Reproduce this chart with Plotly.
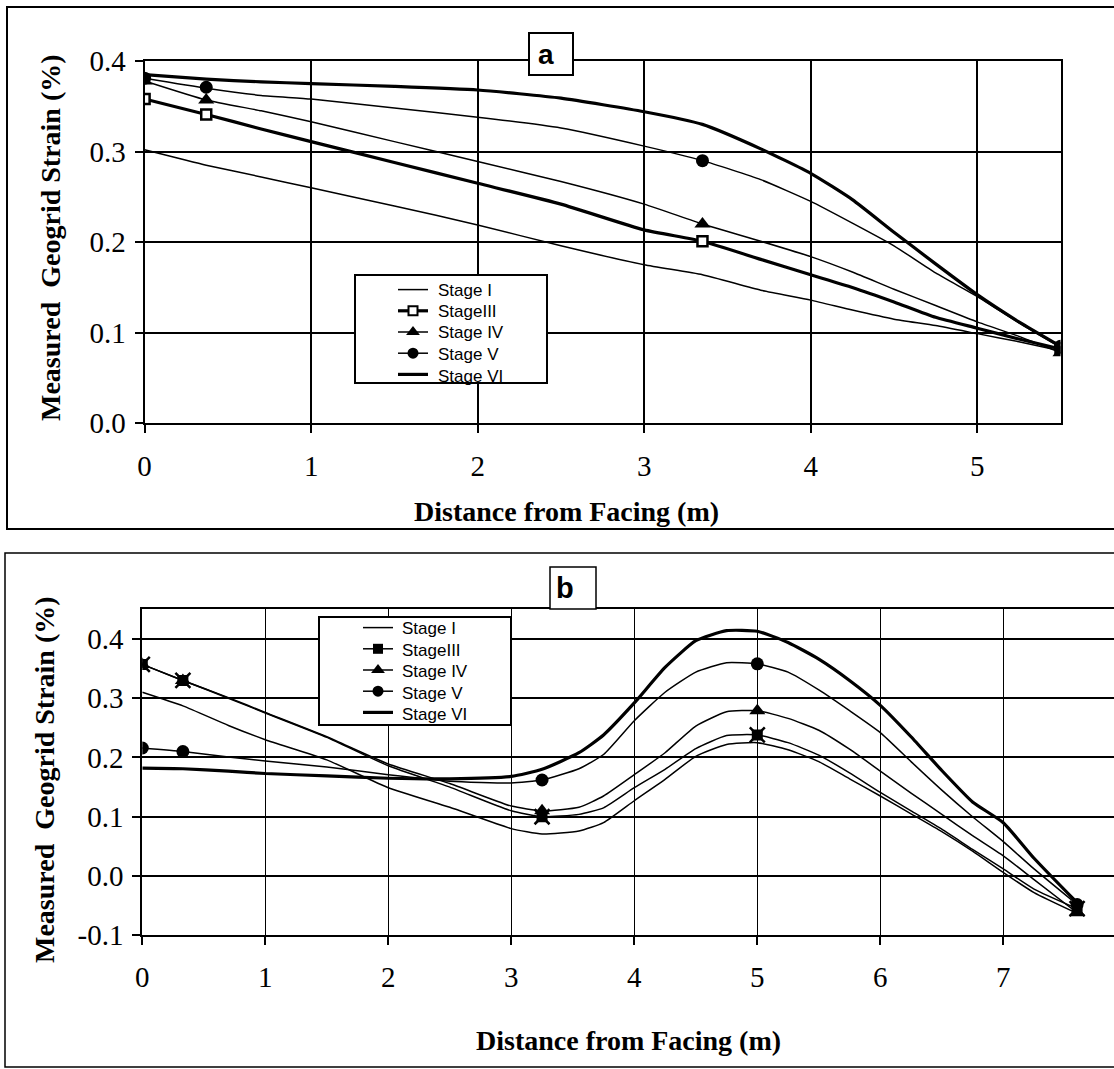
import plotly.graph_objects as go

W, H = 1114, 1069

# ---------------- Panel a data ----------------
a_x = [0, 0.37, 0.7, 1.0, 1.5, 2.0, 2.5, 3.0, 3.35, 3.7, 4.0, 4.25, 4.5, 4.75, 5.0, 5.25, 5.5]
a_stage1 = [0.302, 0.285, 0.272, 0.260, 0.240, 0.219, 0.196, 0.175, 0.164, 0.147, 0.136, 0.125, 0.115, 0.108, 0.099, 0.090, 0.080]
a_stage3 = [0.358, 0.341, 0.325, 0.311, 0.288, 0.265, 0.242, 0.2135, 0.201, 0.181, 0.164, 0.150, 0.134, 0.117, 0.105, 0.093, 0.082]
a_stage4 = [0.378, 0.357, 0.345, 0.333, 0.311, 0.289, 0.267, 0.242, 0.220, 0.201, 0.184, 0.167, 0.148, 0.130, 0.112, 0.096, 0.078]
a_stage5 = [0.381, 0.370, 0.362, 0.358, 0.348, 0.338, 0.326, 0.306, 0.290, 0.269, 0.245, 0.221, 0.196, 0.166, 0.140, 0.111, 0.084]
a_stage6 = [0.385, 0.380, 0.377, 0.375, 0.372, 0.368, 0.359, 0.344, 0.330, 0.303, 0.276, 0.247, 0.211, 0.176, 0.142, 0.112, 0.085]

a_gauge_x = [0, 0.37, 3.35, 5.5]
a_stage3_pts = [0.358, 0.341, 0.201, 0.083]
a_stage4_pts = [0.378, 0.357, 0.220, 0.078]
a_stage5_pts = [0.381, 0.371, 0.290, 0.085]

a_xticks = [0, 1, 2, 3, 4, 5]
a_yticks = [0.0, 0.1, 0.2, 0.3, 0.4]
a_yticktext = ["0.0", "0.1", "0.2", "0.3", "0.4"]

# ---------------- Panel b data ----------------
b_x = [0, 0.33, 0.7, 1.0, 1.5, 2.0, 2.5, 3.0, 3.25, 3.55, 3.75, 4.0, 4.25, 4.5, 4.75,
       5.0, 5.25, 5.5, 5.75, 6.0, 6.25, 6.5, 6.75, 7.0, 7.25, 7.6]
b_stage1 = [0.310, 0.287, 0.254, 0.230, 0.196, 0.149, 0.116, 0.080, 0.071, 0.076, 0.090, 0.127, 0.163,
            0.202, 0.222, 0.225, 0.213, 0.193, 0.164, 0.135, 0.105, 0.075, 0.042, 0.006, -0.028, -0.063]
b_stage3 = [0.357, 0.330, 0.300, 0.275, 0.234, 0.186, 0.150, 0.110, 0.100, 0.104, 0.115, 0.149, 0.180,
            0.215, 0.237, 0.238, 0.225, 0.204, 0.174, 0.141, 0.110, 0.079, 0.045, 0.012, -0.022, -0.055]
b_stage4 = [0.357, 0.330, 0.301, 0.276, 0.235, 0.189, 0.156, 0.118, 0.110, 0.116, 0.135, 0.171, 0.208,
            0.253, 0.277, 0.279, 0.266, 0.246, 0.214, 0.177, 0.140, 0.104, 0.068, 0.034, -0.006, -0.062]
b_stage5 = [0.216, 0.210, 0.201, 0.194, 0.184, 0.171, 0.160, 0.157, 0.162, 0.181, 0.205, 0.262, 0.310,
            0.344, 0.360, 0.358, 0.344, 0.314, 0.279, 0.242, 0.193, 0.145, 0.100, 0.058, 0.012, -0.048]
b_stage6 = [0.182, 0.181, 0.177, 0.173, 0.169, 0.165, 0.164, 0.168, 0.180, 0.208, 0.238, 0.292, 0.352,
            0.397, 0.414, 0.413, 0.394, 0.366, 0.330, 0.288, 0.235, 0.178, 0.125, 0.090, 0.030, -0.045]

b_gauge_x = [0, 0.33, 3.25, 5.0, 7.6]
b_stage3_pts = [0.357, 0.330, 0.100, 0.238, -0.055]
b_stage4_pts = [0.357, 0.330, 0.110, 0.279, -0.062]
b_stage5_pts = [0.216, 0.210, 0.162, 0.358, -0.048]

b_xticks = [0, 1, 2, 3, 4, 5, 6, 7]
b_yticks = [-0.1, 0.0, 0.1, 0.2, 0.3, 0.4]
b_yticktext = ["-0.1", "0.0", "0.1", "0.2", "0.3", "0.4"]

stage_names = ["Stage I", "StageIII", "Stage IV", "Stage V", "Stage VI"]
y_title = "Measured  Geogrid Strain (%)"
x_title = "Distance from Facing (m)"

SERIF = "Liberation Serif, Times New Roman, serif"
SANS = "Liberation Sans, Arial, sans-serif"
THIN, THICK = 1.5, 3.2


def PX(px):
    return px / W


def PY(py):
    return 1 - py / H


fig = go.Figure()


def add_line(x, y, width, xa, ya):
    fig.add_trace(go.Scatter(x=x, y=y, mode="lines", xaxis=xa, yaxis=ya,
                             line=dict(color="black", width=width, shape="spline", smoothing=0.5),
                             showlegend=False, hoverinfo="skip"))


def add_markers(x, y, symbol, size, xa, ya, fill="black", lw=0):
    fig.add_trace(go.Scatter(x=x, y=y, mode="markers", xaxis=xa, yaxis=ya,
                             marker=dict(symbol=symbol, size=size, color=fill,
                                         line=dict(color="black", width=lw)),
                             showlegend=False, hoverinfo="skip"))


def add_legend_item(width, symbol, size, legend, fill="black", lw=0):
    # legend key sample only; the entry label is drawn as an annotation
    mode = "lines+markers" if symbol else "lines"
    mk = dict(symbol=symbol, size=size, color=fill, line=dict(color="black", width=lw)) if symbol else None
    fig.add_trace(go.Scatter(x=[None], y=[None], mode=mode, name="", legend=legend,
                             line=dict(color="black", width=width), marker=mk,
                             xaxis="x" if legend == "legend" else "x2",
                             yaxis="y" if legend == "legend" else "y2"))


# ---- Panel a traces ----
add_line(a_x, a_stage1, THIN, "x", "y")
add_line(a_x, a_stage3, THICK, "x", "y")
add_line(a_x, a_stage4, THIN, "x", "y")
add_line(a_x, a_stage5, THIN, "x", "y")
add_line(a_x, a_stage6, THICK, "x", "y")
add_markers(a_gauge_x, a_stage3_pts, "square", 10, "x", "y", fill="white", lw=2.5)
add_markers(a_gauge_x, a_stage4_pts, "triangle-up", 14, "x", "y")
add_markers(a_gauge_x, a_stage5_pts, "circle", 13, "x", "y")

add_legend_item(THIN, None, 0, "legend")
add_legend_item(THICK, "square", 9, "legend", fill="white", lw=2)
add_legend_item(THIN, "triangle-up", 12, "legend")
add_legend_item(THIN, "circle", 11, "legend")
add_legend_item(THICK, None, 0, "legend")

# ---- Panel b traces ----
add_line(b_x, b_stage1, THIN, "x2", "y2")
add_line(b_x, b_stage3, THIN, "x2", "y2")
add_line(b_x, b_stage4, THIN, "x2", "y2")
add_line(b_x, b_stage5, THIN, "x2", "y2")
add_line(b_x, b_stage6, THICK, "x2", "y2")
add_markers(b_gauge_x, b_stage4_pts, "triangle-up", 14, "x2", "y2")
add_markers(b_gauge_x, b_stage3_pts, "square", 11, "x2", "y2")
add_markers(b_gauge_x, b_stage3_pts, "x-thin-open", 15, "x2", "y2", lw=2.5)
add_markers(b_gauge_x, b_stage5_pts, "circle", 13, "x2", "y2")

add_legend_item(THIN, None, 0, "legend2")
add_legend_item(THIN, "square", 10, "legend2")
add_legend_item(THIN, "triangle-up", 12, "legend2")
add_legend_item(THIN, "circle", 11, "legend2")
add_legend_item(THICK, None, 0, "legend2")

tickfont = dict(family=SERIF, size=29, color="black")
common_axis = dict(showline=True, linecolor="black", linewidth=2, ticks="outside",
                   ticklen=8, tickwidth=2, tickcolor="black", tickfont=tickfont,
                   showgrid=True, gridcolor="black", zeroline=False, fixedrange=True,
                   automargin=False)

fig.update_layout(
    template="none",
    width=W, height=H, margin=dict(l=0, r=0, t=0, b=0, pad=0, autoexpand=False),
    paper_bgcolor="white", plot_bgcolor="white",
    xaxis=dict(domain=[PX(144.6), PX(1060.5)], range=[0, 5.5], tickvals=a_xticks,
               gridwidth=1.5, mirror=True, anchor="y", ticklabelstandoff=8, **common_axis),
    yaxis=dict(domain=[PY(423.3), PY(61)], range=[0, 0.4], tickvals=a_yticks, ticktext=a_yticktext,
               gridwidth=1.5, mirror=True, anchor="x", ticklabelstandoff=3, **common_axis),
    xaxis2=dict(domain=[PX(142.3), 1.0], range=[0, 7.9], tickvals=b_xticks,
                gridwidth=1, mirror=True, anchor="y2", ticklabelstandoff=7, **common_axis),
    yaxis2=dict(domain=[PY(935.3), PY(609.3)], range=[-0.1, 0.45], tickvals=b_yticks, ticktext=b_yticktext,
                gridwidth=2, mirror=False, anchor="x2", ticklabelstandoff=3, **common_axis),
    legend=dict(x=PX(393), y=PY(274), xanchor="left", yanchor="top", bgcolor="rgba(0,0,0,0)",
                borderwidth=0, font=dict(family=SANS, size=14, color="black"),
                tracegroupgap=0, itemwidth=30),
    legend2=dict(x=PX(358), y=PY(612), xanchor="left", yanchor="top", bgcolor="rgba(0,0,0,0)",
                 borderwidth=0, font=dict(family=SANS, size=14, color="black"),
                 tracegroupgap=0, itemwidth=30),
    showlegend=True,
)

shapes = []
# outer panel frames
shapes.append(dict(type="rect", xref="paper", yref="paper", x0=PX(7), x1=PX(1130), y0=PY(529), y1=PY(7),
                   line=dict(color="black", width=2), fillcolor="rgba(0,0,0,0)", layer="below"))
shapes.append(dict(type="rect", xref="paper", yref="paper", x0=PX(5), x1=PX(1130), y0=PY(1067), y1=PY(553),
                   line=dict(color="black", width=1.5), fillcolor="rgba(0,0,0,0)", layer="below"))
# legend boxes
shapes.append(dict(type="rect", xref="paper", yref="paper", x0=PX(355), x1=PX(547), y0=PY(383), y1=PY(275),
                   line=dict(color="black", width=2), fillcolor="white", layer="above"))
shapes.append(dict(type="rect", xref="paper", yref="paper", x0=PX(319), x1=PX(511), y0=PY(725), y1=PY(617),
                   line=dict(color="black", width=2), fillcolor="white", layer="above"))
# label boxes
shapes.append(dict(type="rect", xref="paper", yref="paper", x0=PX(529), x1=PX(573), y0=PY(75), y1=PY(33),
                   line=dict(color="black", width=2), fillcolor="white", layer="above"))
shapes.append(dict(type="rect", xref="paper", yref="paper", x0=PX(550), x1=PX(596), y0=PY(609), y1=PY(567),
                   line=dict(color="black", width=1.5), fillcolor="white", layer="above"))
fig.update_layout(shapes=shapes)

title_font = dict(family=SERIF, size=28, color="black")
anns = [
    dict(text="<b>a</b>", x=PX(536), y=PY(54), xanchor="left", yanchor="middle",
         font=dict(family=SANS, size=28, color="black")),
    dict(text="<b>b</b>", x=PX(554), y=PY(588), xanchor="left", yanchor="middle",
         font=dict(family=SANS, size=29, color="black")),
    dict(text="<b>" + y_title + "</b>", x=PX(50), y=PY(238), textangle=-90, font=title_font,
         xanchor="center", yanchor="middle"),
    dict(text="<b>" + y_title + "</b>", x=PX(44), y=PY(780), textangle=-90, font=title_font,
         xanchor="center", yanchor="middle"),
    dict(text="<b>" + x_title + "</b>", x=PX(566), y=PY(511), font=title_font,
         xanchor="center", yanchor="middle"),
    dict(text="<b>" + x_title + "</b>", x=PX(628), y=PY(1040), font=title_font,
         xanchor="center", yanchor="middle"),
]
# legend entry labels
leg_font = dict(family=SANS, size=17, color="black")
a_rows = [290, 311.5, 333, 354.5, 376]
b_rows = [628.5, 650, 671.5, 693, 714.5]
for name, ry in zip(stage_names, a_rows):
    anns.append(dict(text=name, x=PX(436), y=PY(ry), xanchor="left", yanchor="middle", font=leg_font))
for name, ry in zip(stage_names, b_rows):
    anns.append(dict(text=name, x=PX(400), y=PY(ry), xanchor="left", yanchor="middle", font=leg_font))
for a in anns:
    a.update(xref="paper", yref="paper", showarrow=False)
fig.update_layout(annotations=anns)

fig.write_html("out.html", config={"displayModeBar": False},
               post_script="document.body.style.margin='0';document.body.style.overflow='hidden';")
